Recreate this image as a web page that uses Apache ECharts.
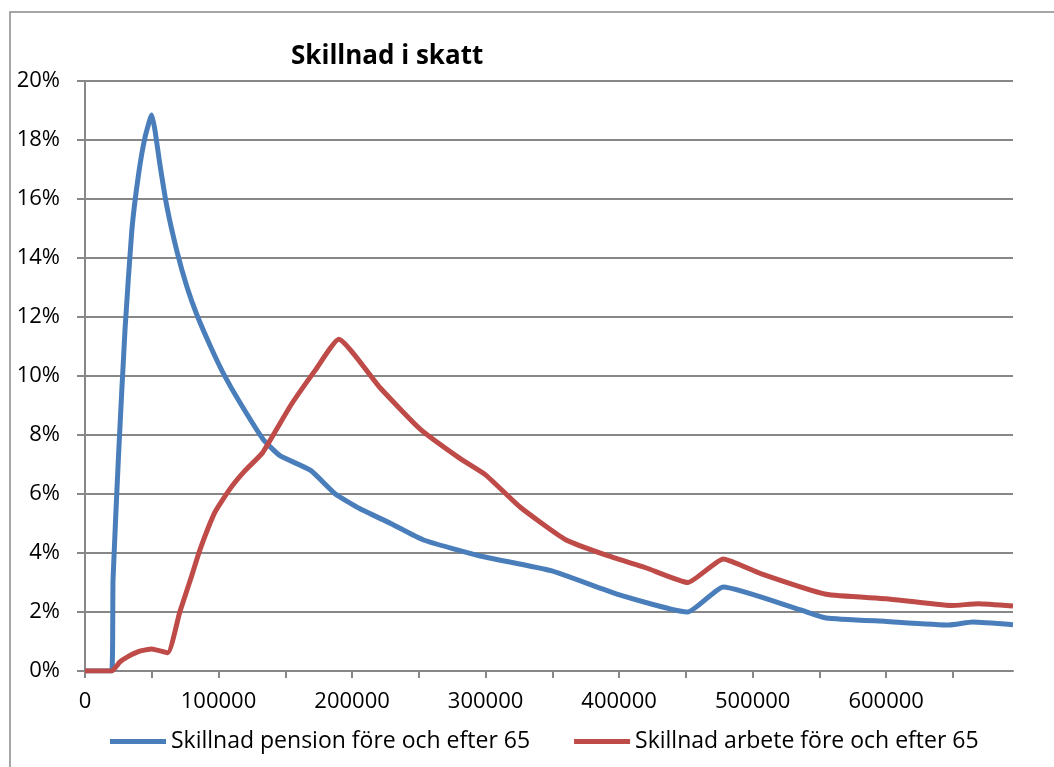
<!DOCTYPE html>
<html>
<head>
<meta charset="utf-8">
<script src="https://cdn.jsdelivr.net/npm/echarts@6/dist/echarts.min.js"></script>
<style>
  html, body { margin: 0; padding: 0; background: #fff; }
  #chart { width: 1054px; height: 767px; }
</style>
</head>
<body>
<div id="chart"></div>
<script>
// inkomst (kr) och skillnad i skatt (%)
var pensionIncome = [0, 20000, 21000, 25000, 30000, 35000, 40000, 45000, 50000, 52500, 56000, 61500, 69000, 76500, 84000, 94000, 103500, 116000, 133500, 146000, 169000, 187500, 206000, 229000, 253500, 296000, 349000, 399000, 451500, 478000, 536000, 555000, 600000, 647000, 665000, 695000];
var pensionDiff = [0, 0, 3.1, 7.2, 11.6, 14.9, 16.8, 18.1, 18.85, 18.3, 17.2, 15.7, 14.2, 13.0, 12.05, 11.0, 10.1, 9.1, 7.85, 7.3, 6.8, 6.0, 5.5, 5.0, 4.44, 3.9, 3.4, 2.6, 2.0, 2.85, 2.07, 1.8, 1.68, 1.56, 1.66, 1.57];

var workIncome = [0, 20000, 26000, 31500, 41000, 50000, 62000, 71000, 79000, 86000, 97500, 109000, 120000, 133000, 154000, 172500, 190000, 221000, 251000, 281000, 300000, 326000, 360000, 392000, 420000, 451500, 478000, 506000, 555000, 600000, 649000, 669000, 695000];
var workDiff = [0, 0, 0.3, 0.47, 0.67, 0.75, 0.62, 2.0, 3.1, 4.1, 5.4, 6.2, 6.8, 7.4, 9.0, 10.2, 11.25, 9.6, 8.2, 7.2, 6.65, 5.55, 4.45, 3.9, 3.5, 3.0, 3.8, 3.3, 2.6, 2.45, 2.22, 2.28, 2.2];

var xTickValues = [0, 50000, 100000, 150000, 200000, 250000, 300000, 350000, 400000, 450000, 500000, 550000, 600000, 650000];
var xLabelValues = [0, 100000, 200000, 300000, 400000, 500000, 600000];

function pairs(xs, ys) {
  var out = [];
  for (var i = 0; i < xs.length; i++) out.push([xs[i], ys[i]]);
  return out;
}

var fontFam = '"Open Sans", Lato, sans-serif';
var gridColor = '#878787';

var myChart = echarts.init(document.getElementById('chart'));
var option = {
  animation: false,
  backgroundColor: '#fff',
  title: {
    text: 'Skillnad i skatt',
    left: 286,
    top: 39,
    textStyle: { fontSize: 26, fontWeight: 'bold', color: '#000', fontFamily: fontFam }
  },
  graphic: [{
    type: 'rect',
    shape: { x: 10, y: 12, width: 1100, height: 800 },
    style: { fill: 'none', stroke: '#8a8a8a', lineWidth: 1.5 },
    silent: true
  }],
  grid: { left: 85, right: 41, top: 81, bottom: 96, containLabel: false },
  legend: {
    bottom: 9,
    left: 105,
    icon: 'rect',
    itemWidth: 56,
    itemHeight: 5,
    itemGap: 44,
    textStyle: { fontSize: 23, color: '#000', fontFamily: fontFam },
    data: ['Skillnad pension före och efter 65', 'Skillnad arbete före och efter 65']
  },
  xAxis: {
    type: 'value',
    min: 0,
    max: 695000,
    interval: 50000,
    axisLine: { show: true, lineStyle: { color: gridColor, width: 2 } },
    axisTick: { show: true, length: 7, customValues: xTickValues, lineStyle: { color: gridColor, width: 2 } },
    axisLabel: {
      customValues: xLabelValues, margin: 20, fontSize: 22, color: '#000', fontFamily: fontFam,
      formatter: function (v) { return String(v); }
    },
    splitLine: { show: false }
  },
  yAxis: {
    type: 'value',
    min: 0,
    max: 20,
    interval: 2,
    axisLine: { show: true, lineStyle: { color: gridColor, width: 2 } },
    axisTick: { show: true, length: 8, lineStyle: { color: gridColor, width: 2 } },
    axisLabel: {
      margin: 25, fontSize: 22, color: '#000', fontFamily: fontFam,
      formatter: function (v) { return Math.round(v) + '%'; }
    },
    splitLine: { show: true, lineStyle: { color: gridColor, width: 2 } }
  },
  series: [
    {
      name: 'Skillnad pension före och efter 65',
      type: 'line',
      data: pairs(pensionIncome, pensionDiff),
      showSymbol: false,
      smooth: 0.15,
      color: '#4a7ebb',
      lineStyle: { width: 5, color: '#4a7ebb', join: 'round' }
    },
    {
      name: 'Skillnad arbete före och efter 65',
      type: 'line',
      data: pairs(workIncome, workDiff),
      showSymbol: false,
      smooth: 0.15,
      color: '#be4b48',
      lineStyle: { width: 5, color: '#be4b48', join: 'round' }
    }
  ]
};
myChart.setOption(option);
</script>
</body>
</html>
